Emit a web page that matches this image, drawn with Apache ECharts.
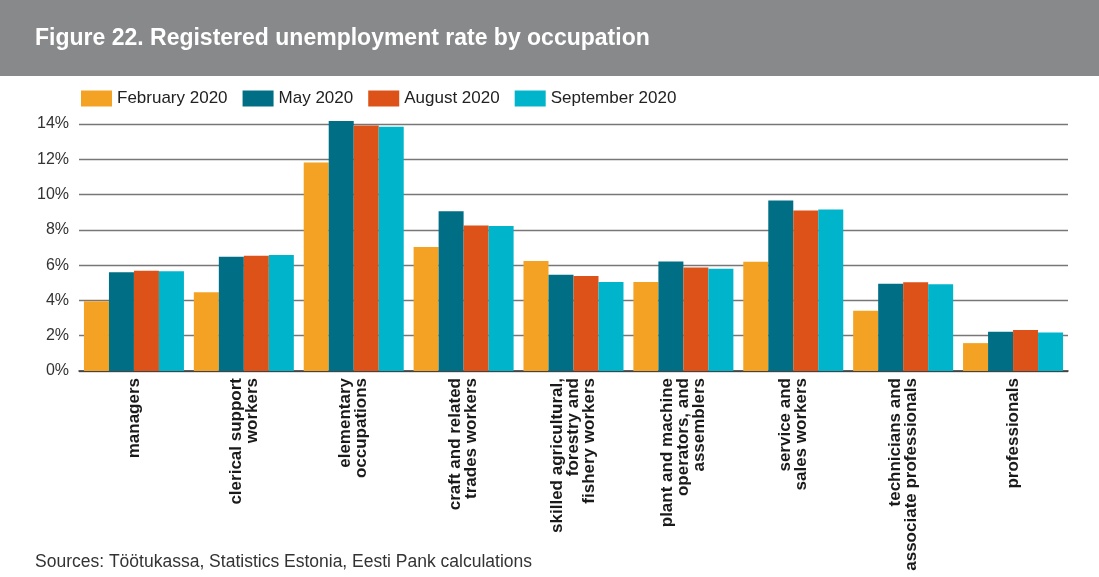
<!DOCTYPE html>
<html>
<head>
<meta charset="utf-8">
<script src="https://cdn.jsdelivr.net/npm/echarts@6/dist/echarts.min.js"></script>
<style>
  html, body { margin: 0; padding: 0; background: #fff; }
  #chart { width: 1099px; height: 577px; }
</style>
</head>
<body>
<div id="chart"></div>
<script>
// Occupation groups (line breaks as printed under the axis)
const categories = [
  'managers',
  'clerical support\nworkers',
  'elementary\noccupations',
  'craft and related\ntrades workers',
  'skilled agricultural,\nforestry and\nfishery workers',
  'plant and machine\noperators, and\nassemblers',
  'service and\nsales workers',
  'technicians and\nassociate professionals',
  'professionals'
];

// Registered unemployment rate, %
const feb2020 = [3.95, 4.46, 11.82, 7.03, 6.23, 5.05, 6.19, 3.42, 1.58];
const may2020 = [5.60, 6.48, 14.17, 9.06, 5.45, 6.21, 9.67, 4.94, 2.22];
const aug2020 = [5.68, 6.53, 13.92, 8.24, 5.38, 5.87, 9.10, 5.03, 2.32];
const sep2020 = [5.66, 6.57, 13.85, 8.22, 5.05, 5.79, 9.16, 4.92, 2.18];

const seriesNames = ['February 2020', 'May 2020', 'August 2020', 'September 2020'];
const seriesColors = ['#f4a223', '#006e85', '#dc5218', '#00b4cb'];
const seriesData = [feb2020, may2020, aug2020, sep2020];

const yTicks = { min: 0, max: 14, interval: 2 };

const FONT = '"Liberation Sans", Arial, Helvetica, sans-serif';

const chart = echarts.init(document.getElementById('chart'), null, { renderer: 'canvas' });

chart.setOption({
  animation: false,
  backgroundColor: '#ffffff',
  graphic: [
    {
      type: 'rect',
      left: 0, top: 0,
      shape: { width: 1099, height: 76 },
      style: { fill: '#88898b' },
      z: -1
    },
    {
      type: 'text',
      left: 35,
      top: 553,
      style: {
        text: 'Sources: Töötukassa, Statistics Estonia, Eesti Pank calculations',
        fill: '#333',
        font: '17.5px ' + FONT
      }
    }
  ],
  title: {
    text: 'Figure 22. Registered unemployment rate by occupation',
    left: 30,
    top: 22,
    textStyle: { color: '#ffffff', fontFamily: FONT, fontWeight: 'bold', fontSize: 23 }
  },
  legend: {
    data: seriesNames,
    left: 76,
    top: 85,
    itemWidth: 31,
    itemHeight: 16,
    itemGap: 15,
    icon: 'rect',
    textStyle: { color: '#222', fontFamily: FONT, fontSize: 17 }
  },
  grid: { left: 79, right: 31, top: 124, bottom: 206, containLabel: false },
  xAxis: {
    type: 'category',
    data: categories,
    axisLine: { show: true, lineStyle: { color: '#333', width: 1.5 } },
    axisTick: { show: false },
    axisLabel: {
      interval: 0,
      rotate: 90,
      margin: 7,
      color: '#1a1a1a',
      fontFamily: FONT,
      fontWeight: 'bold',
      fontSize: 17,
      lineHeight: 16
    }
  },
  yAxis: {
    type: 'value',
    min: yTicks.min,
    max: yTicks.max,
    interval: yTicks.interval,
    axisLine: { show: false },
    axisTick: { show: false },
    splitLine: { lineStyle: { color: '#777', width: 1.3 } },
    axisLabel: {
      formatter: '{value}%',
      margin: 10,
      color: '#333',
      fontFamily: FONT,
      fontSize: 16
    }
  },
  series: seriesData.map((d, i) => ({
    name: seriesNames[i],
    type: 'bar',
    data: d,
    clip: false,
    barGap: '0%',
    barCategoryGap: '9%',
    itemStyle: { color: seriesColors[i] }
  }))
});
</script>
</body>
</html>
